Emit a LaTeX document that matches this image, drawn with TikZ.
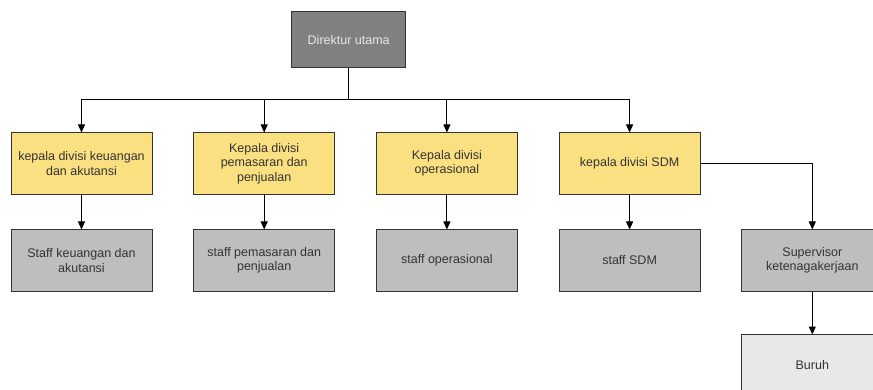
\documentclass[tikz,border=0pt]{standalone}
\usepackage{fontspec}
\setmainfont{Liberation Sans}
\usetikzlibrary{positioning}
\usetikzlibrary{arrows.meta}

\definecolor{headgray}{HTML}{808080}
\definecolor{kepalayellow}{HTML}{FAE080}
\definecolor{staffgray}{HTML}{BEBEBE}
\definecolor{buruhgray}{HTML}{E8E8E8}
\definecolor{boxline}{HTML}{333333}
\definecolor{boxtext}{HTML}{333333}

\begin{document}
\begin{tikzpicture}[x=1pt,y=-1pt,
org box/.style={draw=boxline,line width=1pt,minimum width=141pt,minimum height=62pt,
                inner sep=0,outer sep=0,align=center,text=boxtext,
                font=\fontsize{12.5}{14.5}\selectfont},
head box/.style={org box,fill=headgray,text=buruhgray,minimum width=114pt,minimum height=56pt},
kepala box/.style={org box,fill=kepalayellow},
staff box/.style={org box,fill=staffgray},
buruh box/.style={org box,fill=buruhgray},
link/.style={draw=black,line width=1pt,-{Triangle[length=8pt,width=7pt]}}]
\useasboundingbox (0,0) rectangle (873,390);
\clip (0,0) rectangle (873,390);
%==================
\node[head box] (dir) at (348.7,40) {Direktur utama};
\coordinate (bus) at (348.7,99.5);
%==================
\node[kepala box] (k1) at (81.5,163.5) {kepala divisi keuangan\\dan akutansi};
\node[kepala box,right=41.7pt of k1] (k2) {Kepala divisi\\pemasaran dan\\penjualan};
\node[kepala box,right=41.7pt of k2] (k3) {Kepala divisi\\operasional};
\node[kepala box,right=41.7pt of k3] (k4) {kepala divisi SDM};
% ===================
\node[staff box,below=35pt of k1] (s1) {Staff keuangan dan\\akutansi};
\node[staff box,below=35pt of k2] (s2) {staff pemasaran dan\\penjualan};
\node[staff box,below=35pt of k3] (s3) {staff operasional};
\node[staff box,below=35pt of k4] (s4) {staff SDM};
\node[staff box,right=41.7pt of s4] (s5) {Supervisor\\ketenagakerjaan};
\node[buruh box,below=43pt of s5] (buruh) {Buruh};
% ===================
\foreach \x in {1,2,3,4}{
\draw[link] (dir.south) -- (bus) -| (k\x.north);
\draw[link] (k\x.south) -- (s\x.north);
}
\draw[link] (k4.east) -| (s5.north);
\draw[link] (s5.south) -- (buruh.north);
\end{tikzpicture}
\end{document}
